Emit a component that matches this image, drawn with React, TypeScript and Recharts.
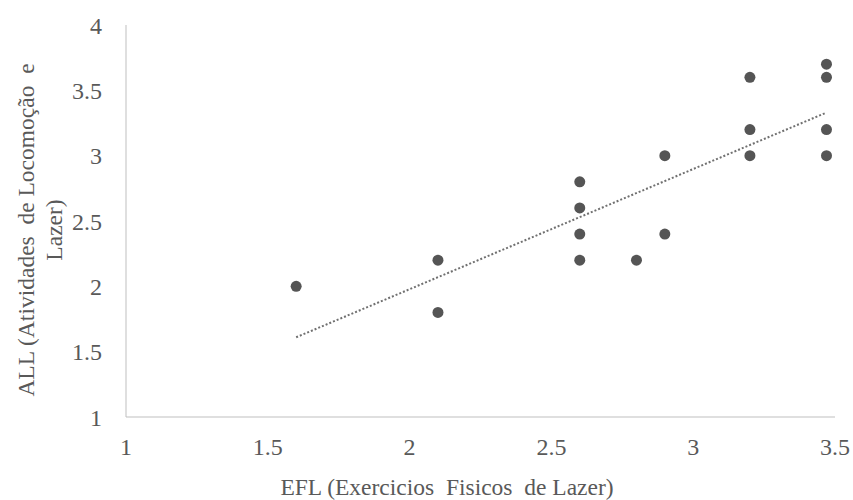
import { Scatter, XAxis, YAxis, Line, ComposedChart } from "recharts";

// scatter points
const efl = [1.6, 2.1, 2.1, 2.6, 2.6, 2.6, 2.6, 2.8, 2.9, 2.9, 3.2, 3.2, 3.2, 3.47, 3.47, 3.47, 3.47];
const all = [2.0, 2.2, 1.8, 2.8, 2.6, 2.4, 2.2, 2.2, 3.0, 2.4, 3.6, 3.2, 3.0, 3.7, 3.6, 3.2, 3.0];

// trendline endpoints (as drawn)
const trendX = [1.6, 3.47];
const trendY = [1.61, 3.33];

const xTicks = [1, 1.5, 2, 2.5, 3, 3.5];
const yTicks = [1, 1.5, 2, 2.5, 3, 3.5, 4];

const points = efl.map((x, i) => ({ x, y: all[i] }));
const trend = trendX.map((x, i) => ({ x, y: trendY[i] }));

const TEXT = "#595959";
const FONT = "'Liberation Serif', 'Times New Roman', serif";
const pre = { whiteSpace: "pre" as const };

const YTitle = () => (
  <g>
    <text
      x={0}
      y={0}
      transform="translate(34, 230) rotate(-90)"
      textAnchor="middle"
      fill={TEXT}
      fontFamily={FONT}
      fontSize={23.5}
      style={pre}
    >
      {"ALL (Atividades  de Locomoção  e"}
    </text>
    <text
      x={0}
      y={0}
      transform="translate(62, 230) rotate(-90)"
      textAnchor="middle"
      fill={TEXT}
      fontFamily={FONT}
      fontSize={23.5}
      style={pre}
    >
      Lazer)
    </text>
  </g>
);

const XTitle = () => (
  <text
    x={447}
    y={495}
    textAnchor="middle"
    fill={TEXT}
    fontFamily={FONT}
    fontSize={23.5}
    style={pre}
  >
    {"EFL (Exercicios  Fisicos  de Lazer)"}
  </text>
);

export default function App() {
  return (
    <div style={{ position: "absolute", left: 0, top: 0, background: "#fff" }}>
      <ComposedChart
        width={853}
        height={500}
        margin={{ top: 25, right: 18, bottom: 0, left: 0 }}
      >
        <XAxis
          type="number"
          dataKey="x"
          domain={[1, 3.5]}
          ticks={xTicks}
          allowDataOverflow
          height={83}
          stroke="#bfbfbf"
          tickLine={false}
          tickSize={0}
          tickMargin={21}
          tick={{ fill: TEXT, fontSize: 24, fontFamily: FONT }}
        />
        <YAxis
          type="number"
          dataKey="y"
          domain={[1, 4]}
          ticks={yTicks}
          width={126}
          stroke="#bfbfbf"
          tickLine={false}
          tickSize={0}
          tickMargin={24}
          tick={{ fill: TEXT, fontSize: 24, fontFamily: FONT }}
        />
        <Line
          data={trend}
          dataKey="y"
          type="linear"
          stroke="#707070"
          strokeWidth={2}
          strokeDasharray="2 2"
          dot={false}
          isAnimationActive={false}
        />
        <Scatter
          data={points}
          fill="#555555"
          shape={(p: any) => <circle cx={p.cx} cy={p.cy} r={5.5} fill="#555555" />}
          isAnimationActive={false}
        />
        <YTitle />
        <XTitle />
      </ComposedChart>
    </div>
  );
}
